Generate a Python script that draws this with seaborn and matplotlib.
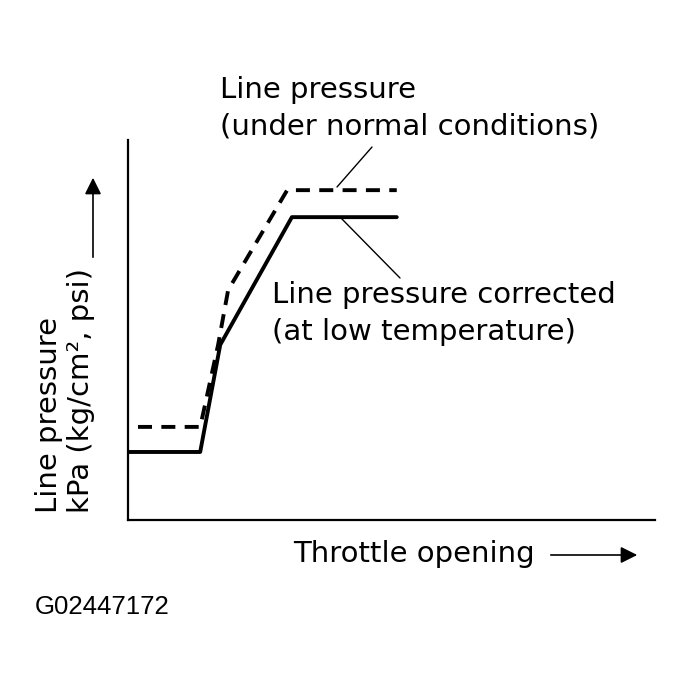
import pandas as pd
import matplotlib
matplotlib.use('Agg')
import matplotlib.pyplot as plt
import seaborn as sns

# throttle opening (0-100) and line pressure (0-100)
corr_x = [0.0, 13.7, 17.5, 31.1, 51.0]
corr_y = [17.9, 17.9, 46.1, 79.7, 79.7]
norm_x = [1.9, 13.7, 17.1, 19.0, 30.2, 51.0]
norm_y = [24.5, 24.5, 46.1, 60.5, 86.8, 86.8]

df = pd.concat([
    pd.DataFrame({'x': corr_x, 'y': corr_y, 'curve': 'corrected'}),
    pd.DataFrame({'x': norm_x, 'y': norm_y, 'curve': 'normal'}),
], ignore_index=True)

sns.set_style('white')
plt.rcParams['font.family'] = ['DejaVu Sans']
plt.rcParams['text.color'] = 'black'

W, H = 692, 688
fig = plt.figure(figsize=(W / 100, H / 100), dpi=100)
ax = fig.add_axes([128 / W, 1 - 520 / H, 527 / W, 380 / H])

sns.lineplot(data=df, x='x', y='y', style='curve', sort=False, estimator=None,
             color='black', linewidth=2.8, legend=False,
             dashes={'corrected': '', 'normal': (3.6, 2.4)}, ax=ax)

ax.set_xlim(0, 100)
ax.set_ylim(0, 100)
ax.set_xticks([])
ax.set_yticks([])
ax.set_xlabel('')
ax.set_ylabel('')
sns.despine(ax=ax)
for s in ('left', 'bottom'):
    ax.spines[s].set_color('black')
    ax.spines[s].set_linewidth(1.6)


def px(x, y):
    return x / W, 1 - y / H


fs = 21
fig.text(*px(220, 98), 'Line pressure', fontsize=fs, va='baseline')
fig.text(*px(220, 135), '(under normal conditions)', fontsize=fs, va='baseline')
fig.text(*px(272, 303), 'Line pressure corrected', fontsize=fs, va='baseline')
fig.text(*px(272, 340), '(at low temperature)', fontsize=fs, va='baseline')

# leader lines
fig.add_artist(plt.Line2D([337 / W, 372 / W], [1 - 187 / H, 1 - 147 / H], color='black', lw=1))
fig.add_artist(plt.Line2D([340 / W, 400 / W], [1 - 217 / H, 1 - 278 / H], color='black', lw=1))

# axis titles
fig.text(*px(293, 562), 'Throttle opening', fontsize=fs, va='baseline')
ax.annotate('', xy=px(640, 555), xytext=px(548, 555), xycoords='figure fraction',
            arrowprops=dict(arrowstyle='-|>', color='black', lw=1.2, mutation_scale=25))

fig.text(*px(57, 513), 'Line pressure', fontsize=fs, rotation=90,
         rotation_mode='anchor', ha='left', va='baseline')
fig.text(*px(89, 513), 'kPa (kg/cm², psi)', fontsize=fs, rotation=90,
         rotation_mode='anchor', ha='left', va='baseline')
ax.annotate('', xy=px(93, 175), xytext=px(93, 260), xycoords='figure fraction',
            arrowprops=dict(arrowstyle='-|>', color='black', lw=1.2, mutation_scale=25))

fig.text(*px(35, 614), 'G02447172', fontsize=18.5, va='baseline',
         family=['Liberation Sans', 'DejaVu Sans'])

fig.savefig('out.png', dpi=100)
